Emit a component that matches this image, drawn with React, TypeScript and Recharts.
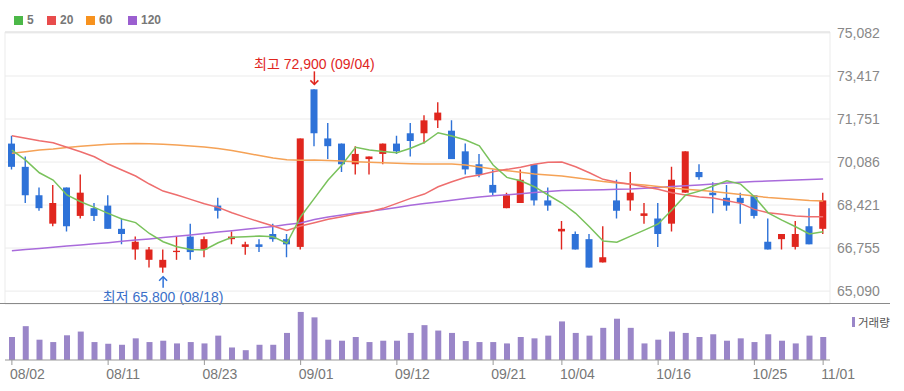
import { ComposedChart, Bar, Line, XAxis, YAxis, CartesianGrid, ReferenceDot, ReferenceLine } from "recharts";

const dates = [
  "08/02", "08/03", "08/04", "08/07", "08/08", "08/09", "08/10", "08/11", "08/14", "08/16",
  "08/17", "08/18", "08/21", "08/22", "08/23", "08/24", "08/25", "08/28", "08/29", "08/30",
  "08/31", "09/01", "09/04", "09/05", "09/06", "09/07", "09/08", "09/11", "09/12", "09/13",
  "09/14", "09/15", "09/18", "09/19", "09/20", "09/21", "09/22", "09/25", "09/26", "09/27",
  "10/04", "10/05", "10/06", "10/10", "10/11", "10/12", "10/13", "10/16", "10/17", "10/18",
  "10/19", "10/20", "10/23", "10/24", "10/25", "10/26", "10/27", "10/30", "10/31", "11/01",
];

const opens = [
  70800, 69900, 68800, 67700, 69100, 68000, 68300, 68400, 67500, 66700,
  66300, 66000, 66600, 67200, 66700, 68400, 67100, 66800, 66900, 67300,
  67100, 66800, 72900, 71000, 70800, 70000, 70200, 70400, 70800, 71200,
  71200, 71700, 71300, 70500, 70000, 69200, 68300, 68500, 70000, 68600,
  67400, 67300, 67100, 66200, 68600, 68600, 68000, 67900, 67700, 68900,
  69700, 68900, 68700, 68700, 68800, 67000, 67100, 66800, 67600, 67500,
];
const highs = [
  71100, 70300, 69100, 69200, 69100, 69600, 68500, 68800, 67900, 67200,
  66800, 66700, 67200, 67700, 67200, 68700, 67400, 67000, 67100, 67700,
  67300, 71000, 72900, 71600, 70800, 70700, 70300, 70800, 71100, 71600,
  71900, 72400, 71700, 70800, 70400, 69800, 68900, 69800, 70000, 69100,
  67800, 67400, 67300, 67600, 69400, 69700, 68500, 68500, 69900, 70500,
  70000, 69300, 69200, 68900, 68800, 67900, 67300, 67800, 68300, 68900,
];
const lows = [
  69800, 68500, 68200, 67600, 67400, 67900, 67800, 67500, 66900, 66300,
  66000, 65800, 66300, 66300, 66400, 67900, 66900, 66500, 66600, 67000,
  66400, 66700, 70700, 70200, 69700, 69600, 69600, 70000, 70400, 70300,
  70800, 71400, 70200, 69600, 69500, 68800, 68300, 68500, 68400, 68200,
  66700, 66700, 66000, 66200, 67900, 68200, 67700, 66800, 67400, 68900,
  69400, 68100, 68200, 67700, 67900, 66700, 66700, 66700, 66900, 67300,
];
const closes = [
  69900, 68800, 68300, 68500, 67600, 68900, 68000, 67500, 67300, 67000,
  66700, 66300, 66650, 66600, 67100, 68200, 67200, 66900, 66800, 67100,
  66900, 71000, 71200, 70700, 70000, 70400, 70300, 70800, 70500, 70900,
  71700, 72000, 70200, 69800, 69600, 68900, 68800, 69400, 68600, 68400,
  67500, 66700, 66000, 66400, 68200, 68900, 68100, 67300, 69400, 70500,
  69500, 68800, 68400, 68500, 68000, 66700, 67300, 67300, 66900, 68600,
];

// volume, thousand shares
const volumes = [
  13600, 20000, 12000, 10600, 14600, 16800, 10600, 9600, 9000, 12800,
  10600, 11400, 9800, 10600, 9800, 14400, 7400, 5800, 9000, 9000,
  16000, 28400, 25200, 12000, 11400, 13600, 10600, 11400, 11400, 16000,
  20600, 17400, 16000, 11200, 10600, 10600, 9800, 13600, 12800, 14400,
  22800, 16000, 14400, 19000, 24400, 19000, 9800, 12000, 16800, 16000,
  13600, 15200, 11400, 12800, 10600, 15200, 11400, 9800, 14400, 13600,
];

const ma5 = [
  70550, 70160, 69670, 69390, 68810, 68550, 68330, 68100, 67880, 67740,
  67320, 67000, 66810, 66700, 66680, 66960, 67170, 67190, 67220, 67190,
  66940, 67970, 68680, 69390, 69970, 70660, 70550, 70490, 70450, 70620,
  70840, 71220, 71090, 70940, 70710, 69970, 69490, 69360, 69130, 68810,
  68500, 68100, 67580, 67030, 66980, 67220, 67450, 67690, 68230, 68810,
  68960, 69160, 69360, 69230, 68740, 68120, 67840, 67580, 67300, 67390,
];
const ma20 = [
  71105, 71004, 70911, 70833, 70655, 70485, 70291, 70008, 69776, 69544,
  69234, 68962, 68807, 68640, 68470, 68331, 68122, 67944, 67774, 67607,
  67433, 67607, 67735, 67867, 67967, 68072, 68161, 68293, 68486, 68680,
  68846, 69129, 69323, 69493, 69582, 69710, 69803, 69881, 69997, 70074,
  70086, 69904, 69671, 69416, 69300, 69222, 69129, 69029, 68897, 68808,
  68730, 68692, 68587, 68486, 68254, 68122, 68060, 67994, 67967, 67967,
];
const ma60 = [
  70423, 70485, 70551, 70589, 70647, 70694, 70733, 70771, 70795, 70802,
  70795, 70775, 70744, 70706, 70667, 70609, 70531, 70434, 70338, 70241,
  70175, 70152, 70163, 70144, 70125, 70097, 70078, 70055, 70035, 70020,
  70008, 70008, 70008, 69970, 69892, 69815, 69749, 69687, 69621, 69582,
  69544, 69474, 69408, 69331, 69272, 69234, 69195, 69137, 69079, 69032,
  68990, 68943, 68885, 68827, 68769, 68711, 68672, 68633, 68595, 68575,
];
const ma120 = [
  66651, 66697, 66743, 66786, 66833, 66875, 66918, 66964, 67015, 67065,
  67108, 67162, 67212, 67262, 67317, 67375, 67429, 67483, 67537, 67588,
  67665, 67723, 67859, 67956, 68033, 68111, 68176, 68246, 68324, 68409,
  68479, 68537, 68606, 68672, 68730, 68781, 68819, 68862, 68905, 68943,
  68982, 68994, 69005, 69017, 69029, 69040, 69067, 69098, 69137, 69164,
  69195, 69234, 69272, 69304, 69331, 69350, 69369, 69389, 69408, 69427,
];

const tickDates = ["08/02", "08/11", "08/23", "09/01", "09/12", "09/21", "10/04", "10/16", "10/25", "11/01"];
const priceTicks = [65090, 66755, 68421, 70086, 71751, 73417, 75082];

const RED = "#e0261e";
const BLUE = "#2e72d8";
const FONT = '"Liberation Sans", Arial, "Noto Sans CJK KR", sans-serif';

const rows = dates.map((date, i) => ({
  date,
  open: opens[i],
  high: highs[i],
  low: lows[i],
  close: closes[i],
  volume: volumes[i],
  ma5: ma5[i],
  ma20: ma20[i],
  ma60: ma60[i],
  ma120: ma120[i],
}));

const fmt = (v: number) => String(v).replace(/\B(?=(\d{3})+(?!\d))/g, ",");

const Candle = (props: any) => {
  const { x, y, width, height, payload } = props;
  const top = Math.min(y, y + height);
  const bot = Math.max(y, y + height);
  const span = payload.high - payload.low;
  const k = span > 0 ? (bot - top) / span : 0;
  const py = (v: number) => top + (payload.high - v) * k;
  const up = payload.close >= payload.open;
  const color = up ? RED : BLUE;
  const cx = x + width / 2;
  const bTop = py(Math.max(payload.open, payload.close));
  const bBot = py(Math.min(payload.open, payload.close));
  return (
    <g>
      <line x1={cx} x2={cx} y1={top} y2={bot} stroke={color} strokeWidth={1.4} />
      <rect x={cx - width / 2} y={bTop} width={width} height={Math.max(1, bBot - bTop)} fill={color} />
    </g>
  );
};

const HighMark = ({ cx, cy }: any) => (
  <g>
    <line x1={cx} x2={cx} y1={cy - 18} y2={cy - 5} stroke={RED} strokeWidth={1.5} />
    <polyline points={`${cx - 4},${cy - 9} ${cx},${cy - 5} ${cx + 4},${cy - 9}`} fill="none" stroke={RED} strokeWidth={1.5} />
    <text x={cx} y={cy - 20} textAnchor="middle" fontSize={14} fill={RED} fontFamily={FONT}>
      최고 72,900 (09/04)
    </text>
  </g>
);

const LowMark = ({ cx, cy }: any) => (
  <g>
    <line x1={cx} x2={cx} y1={cy + 4} y2={cy + 15} stroke={BLUE} strokeWidth={1.5} />
    <polyline points={`${cx - 4},${cy + 8} ${cx},${cy + 4} ${cx + 4},${cy + 8}`} fill="none" stroke={BLUE} strokeWidth={1.5} />
    <text x={cx} y={cy + 29} textAnchor="middle" fontSize={14} fill="#3a6fc8" fontFamily={FONT}>
      최저 65,800 (08/18)
    </text>
  </g>
);

const DateTick = ({ x, y, payload }: any) => (
  <text x={x - 2} y={y} dy={12} textAnchor="start" fontSize={14} fill="#777" fontFamily={FONT}>
    {payload.value}
  </text>
);

const legendItems = [
  { label: "5", color: "#4cb848", left: 14 },
  { label: "20", color: "#e84c4c", left: 47 },
  { label: "60", color: "#f7921e", left: 86 },
  { label: "120", color: "#9b5fd0", left: 128 },
];

const App = () => {
  return (
    <div style={{ position: "absolute", left: 0, top: 0, width: 904, height: 391, background: "#fff", fontFamily: FONT }}>
      {legendItems.map((it) => (
        <div key={it.label} style={{ position: "absolute", left: it.left, top: 13, height: 14, display: "flex", alignItems: "center" }}>
          <span style={{ display: "inline-block", width: 9, height: 9, background: it.color, marginRight: 4 }} />
          <span style={{ fontSize: 12, fontWeight: "bold", color: "#777" }}>{it.label}</span>
        </div>
      ))}

      <div style={{ position: "absolute", left: 0, top: 0 }}>
        <ComposedChart width={904} height={305} data={rows} margin={{ top: 32, right: 0, left: 5, bottom: 0 }}>
          <CartesianGrid stroke="#ebebeb" />
          <XAxis dataKey="date" ticks={tickDates} interval={0} tick={false} tickLine={false} axisLine={false} height={1} />
          <YAxis
            orientation="right"
            width={74}
            domain={[64590, 75120]}
            allowDataOverflow
            ticks={priceTicks}
            tickFormatter={fmt}
            axisLine={false}
            tickLine={false}
            tickSize={6}
            tickMargin={1}
            tick={{ fill: "#888", fontSize: 14, fontFamily: FONT }}
          />
          <ReferenceLine y={75120} stroke="#e0e0e0" />
          <Bar dataKey={(d: any) => [d.low, d.high]} barSize={7} shape={Candle} isAnimationActive={false} />
          <Line dataKey="ma120" stroke="#a96bdb" strokeWidth={1.5} dot={false} isAnimationActive={false} />
          <Line dataKey="ma60" stroke="#f5a256" strokeWidth={1.5} dot={false} isAnimationActive={false} />
          <Line dataKey="ma20" stroke="#ee6e6e" strokeWidth={1.5} dot={false} isAnimationActive={false} />
          <Line dataKey="ma5" stroke="#7ac25c" strokeWidth={1.5} dot={false} isAnimationActive={false} />
          <ReferenceDot x="09/04" y={72900} r={0} shape={HighMark} />
          <ReferenceDot x="08/18" y={65800} r={0} shape={LowMark} />
        </ComposedChart>
      </div>

      <div style={{ position: "absolute", left: 0, top: 303, width: 890, height: 1, background: "#8a8a8a" }} />

      <div style={{ position: "absolute", left: 0, top: 304 }}>
        <ComposedChart width={904} height={87} data={rows} margin={{ top: 1, right: 74, left: 5, bottom: 0 }}>
          <XAxis
            dataKey="date"
            ticks={tickDates}
            interval={0}
            height={31}
            tickSize={5}
            tickMargin={2}
            tick={<DateTick />}
            axisLine={{ stroke: "#999" }}
            tickLine={{ stroke: "#999" }}
          />
          <YAxis hide domain={[0, 32500]} />
          <Bar dataKey="volume" fill="#9a86c8" barSize={6} isAnimationActive={false} />
        </ComposedChart>
      </div>

      <div style={{ position: "absolute", left: 852, top: 314, display: "flex", alignItems: "center" }}>
        <span style={{ display: "inline-block", width: 3, height: 10, background: "#9a86c8", marginRight: 3 }} />
        <span style={{ fontSize: 11.5, color: "#555", fontFamily: '"Noto Sans CJK KR", sans-serif' }}>거래량</span>
      </div>
    </div>
  );
};

export default App;
